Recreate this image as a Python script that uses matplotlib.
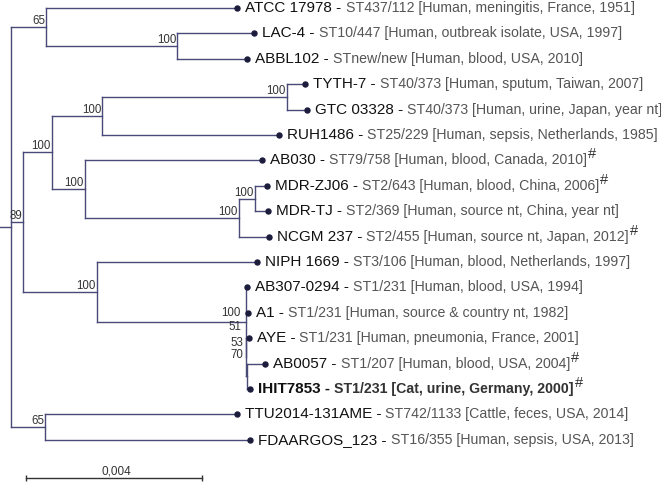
import matplotlib
matplotlib.use("Agg")
import matplotlib.pyplot as plt

plt.rcParams["font.family"] = ["Liberation Sans", "DejaVu Sans"]

# internal nodes: parents listed before children
node_ids = ["root", "A", "B", "C", "D", "E", "F", "G", "H", "I", "J", "K", "L", "M", "N"]
node_parent = [None, "root", "A", "root", "C", "D", "E", "D", "G", "H", "C", "J", "K", "L", "root"]
node_len = [0.0, 0.00080, 0.00298, 0.00027, 0.00066, 0.00114, 0.00420, 0.00075,
            0.00350, 0.00036, 0.00168, 0.00339, 0.00001, 0.00001, 0.00077]
node_support = ["", "65", "100", "89", "100", "100", "100", "100",
                "100", "100", "100", "", "", "", "65"]

# supports printed inside the ST1 cluster (node K)
st1_support = ["100", "51", "53", "70"]

# tips, top to bottom
tip_names = ["ATCC 17978", "LAC-4", "ABBL102", "TYTH-7", "GTC 03328", "RUH1486",
             "AB030", "MDR-ZJ06", "MDR-TJ", "NCGM 237", "NIPH 1669", "AB307-0294",
             "A1", "AYE", "AB0057", "IHIT7853", "TTU2014-131AME", "FDAARGOS_123"]
tip_meta = ["ST437/112 [Human, meningitis, France, 1951]",
            "ST10/447 [Human, outbreak isolate, USA, 1997]",
            "STnew/new [Human, blood, USA, 2010]",
            "ST40/373 [Human, sputum, Taiwan, 2007]",
            "ST40/373 [Human, urine, Japan, year nt]",
            "ST25/229 [Human, sepsis, Netherlands, 1985]",
            "ST79/758 [Human, blood, Canada, 2010]",
            "ST2/643 [Human, blood, China, 2006]",
            "ST2/369 [Human, source nt, China, year nt]",
            "ST2/455 [Human, source nt, Japan, 2012]",
            "ST3/106 [Human, blood, Netherlands, 1997]",
            "ST1/231 [Human, blood, USA, 1994]",
            "ST1/231 [Human, source & country nt, 1982]",
            "ST1/231 [Human, pneumonia, France, 2001]",
            "ST1/207 [Human, blood, USA, 2004]",
            "ST1/231 [Cat, urine, Germany, 2000]",
            "ST742/1133 [Cattle, feces, USA, 2014]",
            "ST16/355 [Human, sepsis, USA, 2013]"]
tip_parent = ["A", "B", "B", "F", "F", "E", "G", "I", "I", "H", "J", "K",
              "K", "L", "M", "M", "N", "N"]
tip_len = [0.00434, 0.00175, 0.00159, 0.00041, 0.00045, 0.00402, 0.00402, 0.00027,
           0.00030, 0.00068, 0.00364, 0.00002, 0.00005, 0.00005, 0.00041, 0.00007,
           0.00436, 0.00466]
tip_hash = [False, False, False, False, False, False, True, True, False, True,
            False, False, False, False, True, True, False, False]
tip_bold = [False] * 15 + [True, False, False]

scale_len = 0.004
scale_label = "0,004"

line_col = "#4a4a78"
dot_col = "#1c1c3c"
meta_col = "#555555"

# x positions
x = {"root": 0.0}
for nid, par, ln in zip(node_ids, node_parent, node_len):
    if par is not None:
        x[nid] = x[par] + ln
tip_x = [x[p] + ln for p, ln in zip(tip_parent, tip_len)]

# y positions: children span
child_ys = {nid: [] for nid in node_ids}
for i, p in enumerate(tip_parent):
    child_ys[p].append(i)
y = {}
for nid, par in reversed(list(zip(node_ids, node_parent))):
    ys = child_ys[nid]
    y[nid] = (min(ys) + max(ys)) / 2
    if par is not None:
        child_ys[par].append(y[nid])

fig = plt.figure(figsize=(6.61, 4.82), dpi=100)
ax = fig.add_axes([0, 0, 1, 1])
ax.set_xlim(-11 / 44000, 650 / 44000)
ax.set_ylim(18.66, -0.315)
ax.axis("off")

lw = 1.0
# internal branches
for nid, par in zip(node_ids, node_parent):
    ys = child_ys[nid]
    ax.plot([x[nid], x[nid]], [min(ys), max(ys)], color=line_col, lw=lw)
    if par is not None:
        ax.plot([x[par], x[nid]], [y[nid], y[nid]], color=line_col, lw=lw)
ax.plot([-11 / 44000, 0], [y["root"], y["root"]], color=line_col, lw=lw)

# support values
for nid, sup in zip(node_ids, node_support):
    if sup:
        ax.annotate(sup, (x[nid], y[nid]), xytext=(-1, 0), textcoords="offset pixels",
                    ha="right", va="bottom", fontsize=8.3, color="#333333")
for sup, dx, dy in zip(st1_support, [-5, -5, -3, -3], [9.5, -4.5, -20.5, -32.5]):
    ax.annotate(sup, (x["K"], y["K"]), xytext=(dx, dy), textcoords="offset pixels",
                ha="right", va="center", fontsize=8.3, color="#333333")

# tips
for i in range(len(tip_names)):
    ax.plot([x[tip_parent[i]], tip_x[i]], [i, i], color=line_col, lw=lw)
    ax.plot(tip_x[i], i, "o", color=dot_col, ms=3.6)
    weight = "bold" if tip_bold[i] else "normal"
    name = ax.annotate(tip_names[i] + " - ", (tip_x[i], i), xytext=(8, 0),
                       textcoords="offset pixels", ha="left", va="center",
                       fontsize=11, color="#111111", fontweight=weight)
    meta = ax.annotate(tip_meta[i], xy=(1, 0.5), xycoords=name, ha="left", va="center",
                       fontsize=10.15, color="#333333" if tip_bold[i] else meta_col,
                       fontweight=weight)
    if tip_hash[i]:
        ax.annotate("#", xy=(1, 0.5), xycoords=meta, xytext=(1, -1),
                    textcoords="offset pixels", ha="left", va="bottom",
                    fontsize=10.5, color="#333333")

# scale bar
sb_x0 = 15 / 44000
sb_y = len(tip_names) + 0.5
ax.plot([sb_x0, sb_x0 + scale_len], [sb_y, sb_y], color="#333333", lw=1.0)
ax.plot([sb_x0, sb_x0 + scale_len], [sb_y, sb_y], "|", color="#333333", ms=4, mew=1.0)
ax.annotate(scale_label, (sb_x0 + scale_len / 2, sb_y), xytext=(2, 0),
            textcoords="offset pixels", ha="center", va="bottom",
            fontsize=8.5, color="#333333")

fig.savefig("out.png", dpi=100)
